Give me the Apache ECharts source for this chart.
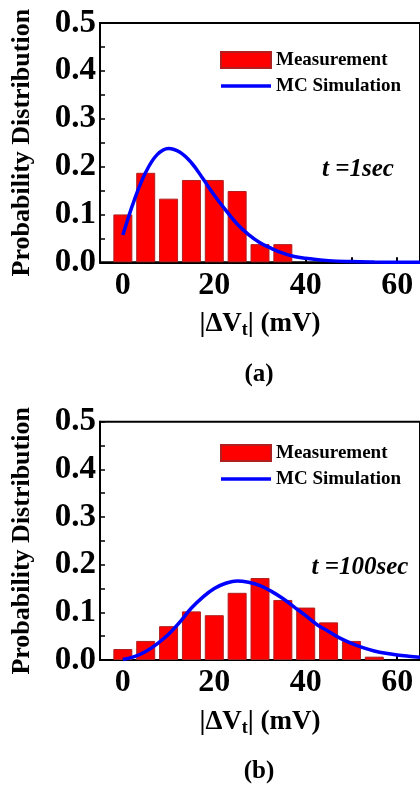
<!DOCTYPE html>
<html>
<head>
<meta charset="utf-8">
<script src="https://cdn.jsdelivr.net/npm/echarts@6/dist/echarts.min.js"></script>
<style>
html,body{margin:0;padding:0;background:#fff;}
#c{width:420px;height:785px;}
</style>
</head>
<body>
<div id="c"></div>
<script>
// ---- data ----
const xTickValues = [0, 10, 20, 30, 40, 50, 60];
const xLabelValues = [0, 20, 40, 60];
const binCenters1 = [0, 5, 10, 15, 20, 25, 30, 35];
const meas1 = [0.100, 0.187, 0.133, 0.172, 0.172, 0.149, 0.038, 0.038];
const simX1 = [0, 2.5, 5, 7.5, 10, 12.5, 15, 17.5, 20, 22.5, 25, 27.5, 30, 32.5, 35, 37.5, 40, 45, 50, 55, 60, 65];
const sim1 = [0.057, 0.130, 0.188, 0.225, 0.238, 0.230, 0.208, 0.175, 0.140, 0.109, 0.080, 0.058, 0.041, 0.029, 0.019, 0.012, 0.0085, 0.0035, 0.0015, 0.0006, 0.0002, 0.0];
const binCenters2 = [0, 5, 10, 15, 20, 25, 30, 35, 40, 45, 50, 55];
const meas2 = [0.023, 0.040, 0.071, 0.102, 0.094, 0.141, 0.172, 0.126, 0.110, 0.079, 0.040, 0.007];
const simX2 = [0, 2.5, 5, 7.5, 10, 12.5, 15, 17.5, 20, 22.5, 25, 27.5, 30, 32.5, 35, 37.5, 40, 42.5, 45, 47.5, 50, 52.5, 55, 57.5, 60, 62.5, 65];
const sim2 = [0.001, 0.007, 0.018, 0.034, 0.054, 0.080, 0.109, 0.132, 0.150, 0.161, 0.166, 0.163, 0.156, 0.144, 0.129, 0.111, 0.093, 0.074, 0.060, 0.046, 0.035, 0.026, 0.019, 0.014, 0.0105, 0.008, 0.006];
const seriesNames = ['Measurement', 'MC Simulation'];
const yAxisName = 'Probability Distribution';
const panelLabels = ['(a)', '(b)'];
const timeLabels = ['t =1sec', 't =100sec'];

const FONT = 'Liberation Serif, Times New Roman, serif';
const zip = (a, b) => a.map((v, i) => [v, b[i]]);

function xAxisCfg(idx) {
  return {
    type: 'value', gridIndex: idx, min: -5, max: 65,
    name: '|ΔV{s|t}| (mV)', nameLocation: 'middle', nameGap: 47,
    nameTextStyle: {
      fontFamily: FONT, fontWeight: 'bold', fontSize: 27, color: '#000',
      rich: { s: { fontFamily: FONT, fontWeight: 'bold', fontSize: 18, color: '#000', padding: [12, 0, 0, 0] } }
    },
    axisLine: { show: true, onZero: false, lineStyle: { color: '#000', width: 2 } },
    axisTick: { show: true, inside: true, length: 5, customValues: xTickValues, lineStyle: { color: '#000', width: 2 } },
    axisLabel: { customValues: xLabelValues, margin: 7, fontFamily: FONT, fontWeight: 'bold', fontSize: 32, color: '#000' },
    splitLine: { show: false }
  };
}
function yAxisCfg(idx) {
  return {
    type: 'value', gridIndex: idx, min: 0, max: 0.5, interval: 0.1,
    name: yAxisName, nameLocation: 'middle', nameGap: 65,
    nameTextStyle: { fontFamily: FONT, fontWeight: 'bold', fontSize: 26, color: '#000' },
    axisLine: { show: true, onZero: false, lineStyle: { color: '#000', width: 2 } },
    axisTick: { show: true, inside: true, length: 5, lineStyle: { color: '#000', width: 1.5 } },
    minorTick: { show: true, splitNumber: 2, length: 5, lineStyle: { color: '#000', width: 1.5 } },
    axisLabel: { margin: 4, formatter: v => v.toFixed(1), fontFamily: FONT, fontWeight: 'bold', fontSize: 33, color: '#000' },
    splitLine: { show: false }
  };
}
function legendCfg(top) {
  return {
    orient: 'vertical', left: 220, top: top, padding: 0, itemWidth: 50, itemHeight: 16, itemGap: 7,
    data: [
      { name: seriesNames[0], icon: 'rect' },
      { name: seriesNames[1], icon: 'path://M0,0H50V3.5H0Z' }
    ],
    textStyle: { fontFamily: FONT, fontWeight: 'bold', fontSize: 19, color: '#000' }
  };
}
function barSeries(idx, xs, ys) {
  return {
    name: seriesNames[0], type: 'bar', xAxisIndex: idx, yAxisIndex: idx,
    data: zip(xs, ys), barWidth: 19,
    itemStyle: { color: '#ff0000', borderColor: '#b02020', borderWidth: 1 }
  };
}
function lineSeries(idx, xs, ys) {
  return {
    name: seriesNames[1], type: 'line', xAxisIndex: idx, yAxisIndex: idx,
    data: zip(xs, ys), smooth: 0.4, symbol: 'none', z: 5,
    lineStyle: { color: '#0000ff', width: 3.5 }, itemStyle: { color: '#0000ff' }
  };
}

const chart = echarts.init(document.getElementById('c'), null, { renderer: 'canvas' });
chart.setOption({
  animation: false,
  backgroundColor: '#fff',
  grid: [
    { left: 100, top: 23, width: 322, height: 239.3, show: true, borderColor: '#000', borderWidth: 2 },
    { left: 100, top: 421.7, width: 322, height: 238.3, show: true, borderColor: '#000', borderWidth: 2 }
  ],
  xAxis: [xAxisCfg(0), xAxisCfg(1)],
  yAxis: [yAxisCfg(0), yAxisCfg(1)],
  legend: [legendCfg(50.5), legendCfg(443.5)],
  series: [
    barSeries(0, binCenters1, meas1),
    lineSeries(0, simX1, sim1),
    barSeries(1, binCenters2, meas2),
    lineSeries(1, simX2, sim2)
  ],
  graphic: [
    { type: 'text', style: { text: timeLabels[0], x: 358, y: 170, textAlign: 'center', textVerticalAlign: 'middle', font: 'italic bold 25px ' + FONT, fill: '#000' } },
    { type: 'text', style: { text: timeLabels[1], x: 360, y: 568, textAlign: 'center', textVerticalAlign: 'middle', font: 'italic bold 25px ' + FONT, fill: '#000' } },
    { type: 'text', style: { text: panelLabels[0], x: 259, y: 375, textAlign: 'center', textVerticalAlign: 'middle', font: 'bold 25px ' + FONT, fill: '#000' } },
    { type: 'text', style: { text: panelLabels[1], x: 259, y: 772, textAlign: 'center', textVerticalAlign: 'middle', font: 'bold 25px ' + FONT, fill: '#000' } }
  ]
});
</script>
</body>
</html>
